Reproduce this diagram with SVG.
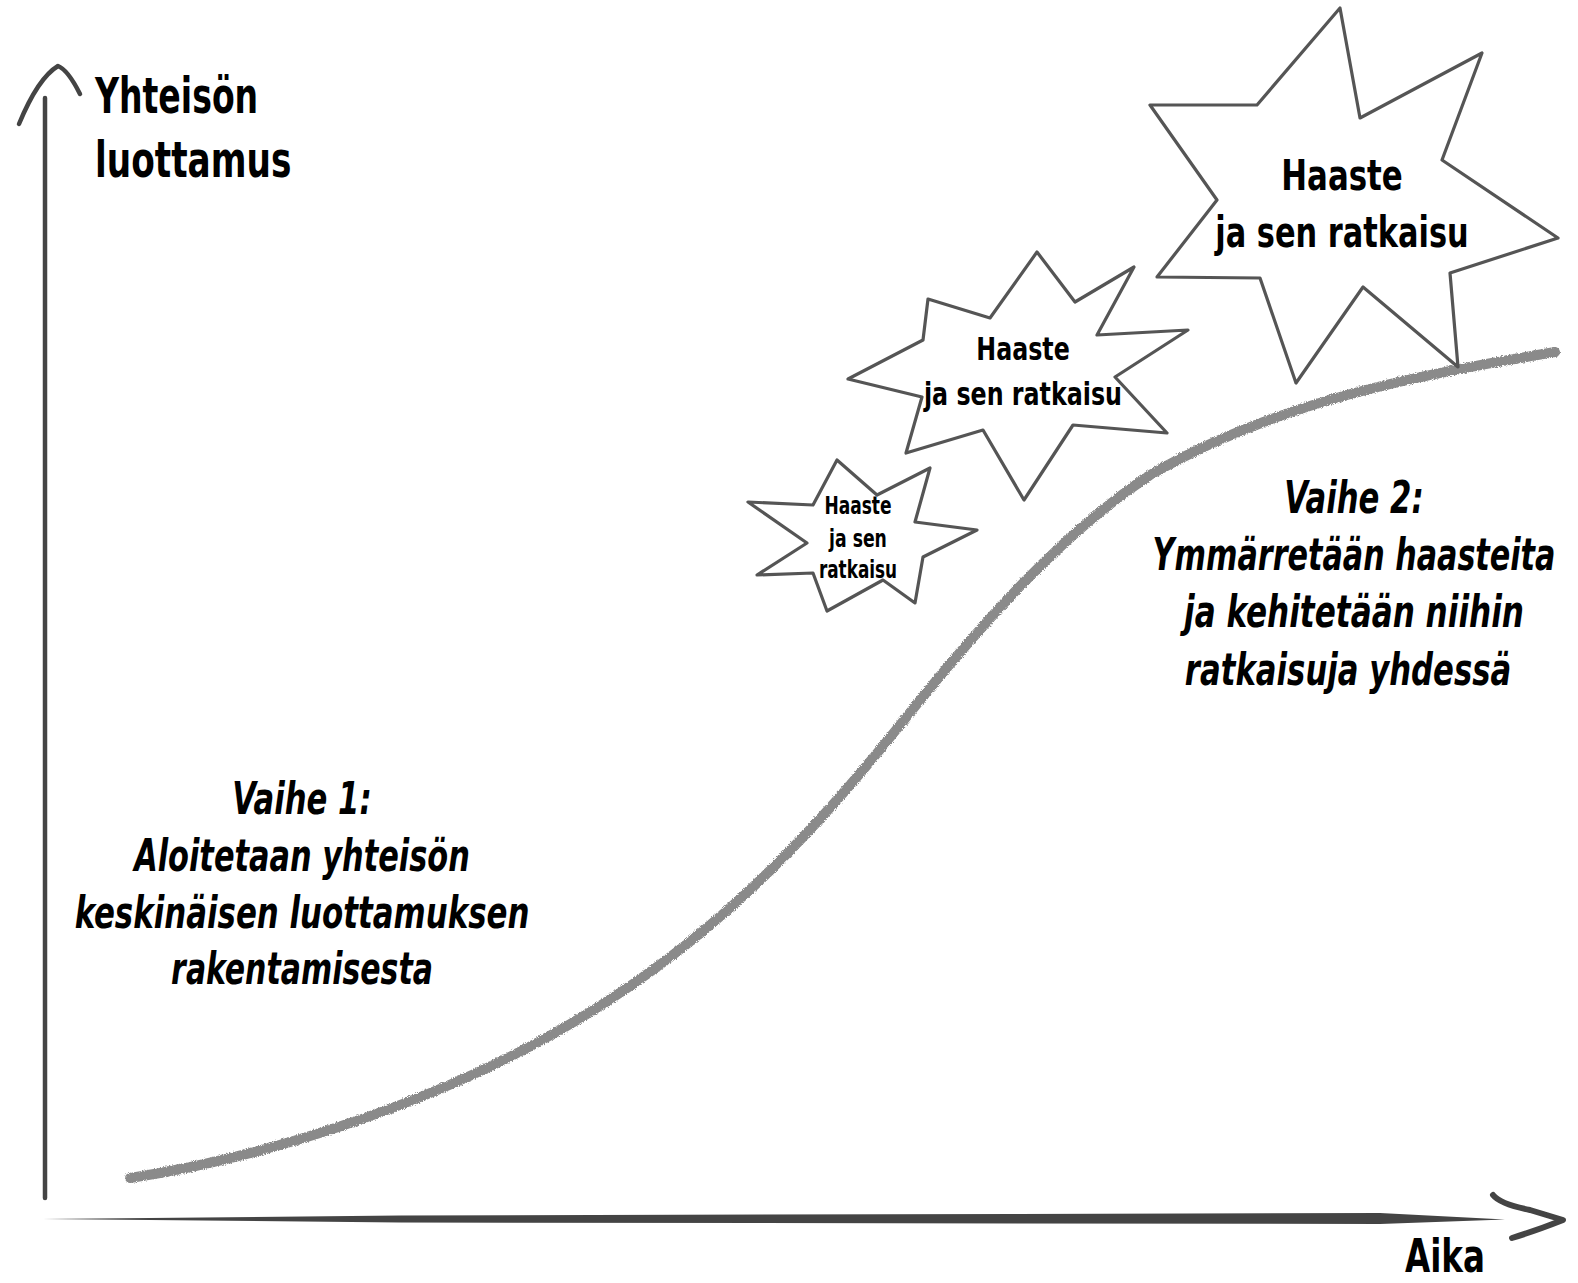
<svg xmlns="http://www.w3.org/2000/svg" width="1578" height="1283" viewBox="0 0 1578 1283">
<style>
  .lbl { font-family: "DejaVu Sans Condensed", "Liberation Sans Narrow", "Liberation Sans", sans-serif; font-stretch: condensed; font-weight: bold; fill: #000; }
  .it { font-style: italic; }
  .star { fill: none; stroke: #555; stroke-width: 3.2; stroke-linejoin: round; stroke-linecap: round; }
  .axis { fill: none; stroke: #444; stroke-linecap: round; stroke-linejoin: round; }
</style>
<defs>
  <filter id="rough" x="-5%" y="-5%" width="110%" height="110%">
    <feTurbulence type="fractalNoise" baseFrequency="0.9" numOctaves="2" result="n"/>
    <feDisplacementMap in="SourceGraphic" in2="n" scale="4" xChannelSelector="R" yChannelSelector="G"/>
  </filter>
</defs>
<rect width="1578" height="1283" fill="#fff"/>

<g id="axes">
  <path class="axis" stroke-width="4.5" d="M45,1198 L45,98"/>
  <path class="axis" stroke-width="4.5" d="M19,124 Q38,78 58,66 Q68,70 80,94"/>
  <path d="M43,1219 L400,1215.5 L1380,1213 L1505,1219.5 L1380,1224 L400,1222.5 Z" fill="#444"/>
  <path class="axis" stroke-width="6" d="M1493,1195 Q1500,1204 1530,1210 L1563,1220 Q1535,1231 1512,1238"/>
</g>

<g id="curve">
  <path d="M130,1178 C250,1160 420,1110 560,1030 C700,950 800,850 900,725 C980,625 1060,535 1150,475 C1280,400 1420,375 1555,352" fill="none" stroke="#8a8a8a" stroke-width="10" stroke-linecap="round" filter="url(#rough)"/>
</g>

<g id="label-y" transform="translate(95,0) scale(0.85,1)">
  <text class="lbl" x="0" y="113" font-size="50" textLength="192" lengthAdjust="spacingAndGlyphs">Yhteisön</text>
  <text class="lbl" x="0" y="177" font-size="50" textLength="231" lengthAdjust="spacingAndGlyphs">luottamus</text>
</g>

<g id="label-x" transform="translate(1405,0) scale(0.85,1)">
  <text class="lbl" x="0" y="1272" font-size="46" textLength="94" lengthAdjust="spacingAndGlyphs">Aika</text>
</g>

<g id="star-small">
  <path class="star" stroke-width="2.8" d="M837,460 L877,495 L930,468 L915,522 L977,530 L923,557 L915,603 L883,580 L827,611 L813,573 L757,575 L807,543 L748,502 L813,505 Z"/>
  <g transform="translate(858,0) scale(0.85,1)">
    <text class="lbl" text-anchor="middle" x="0" y="514" font-size="24" textLength="79" lengthAdjust="spacingAndGlyphs">Haaste</text>
    <text class="lbl" text-anchor="middle" x="0" y="547" font-size="24" textLength="68" lengthAdjust="spacingAndGlyphs">ja sen</text>
    <text class="lbl" text-anchor="middle" x="0" y="578" font-size="24" textLength="92" lengthAdjust="spacingAndGlyphs">ratkaisu</text>
  </g>
</g>

<g id="star-medium">
  <path class="star" d="M1037,252 L1075,302 L1134,267 L1097,335 L1188,330 L1115,377 L1167,433 L1073,425 L1024,500 L983,430 L906,453 L922,397 L848,379 L923,340 L928,299 L990,318 Z"/>
  <g transform="translate(1023,0) scale(0.85,1)">
    <text class="lbl" text-anchor="middle" x="0" y="360" font-size="32" textLength="110" lengthAdjust="spacingAndGlyphs">Haaste</text>
    <text class="lbl" text-anchor="middle" x="0" y="405" font-size="32" textLength="233" lengthAdjust="spacingAndGlyphs">ja sen ratkaisu</text>
  </g>
</g>

<g id="star-large">
  <path class="star" stroke-width="4" d="M1340,8 L1360,118 L1482,53 L1442,160 L1558,238 L1450,273 L1458,367 L1363,287 L1296,383 L1260,278 L1157,277 L1217,200 L1150,105 L1257,105 Z"/>
  <g transform="translate(1342,0) scale(0.85,1)">
    <text class="lbl" text-anchor="middle" x="0" y="190" font-size="42" textLength="143" lengthAdjust="spacingAndGlyphs">Haaste</text>
    <text class="lbl" text-anchor="middle" x="0" y="247" font-size="42" textLength="298" lengthAdjust="spacingAndGlyphs">ja sen ratkaisu</text>
  </g>
</g>

<g id="phase-1" transform="translate(302,0) scale(0.85,1)">
  <text class="lbl it" text-anchor="middle" x="0" y="814" font-size="44" textLength="164" lengthAdjust="spacingAndGlyphs">Vaihe 1:</text>
  <text class="lbl it" text-anchor="middle" x="0" y="871" font-size="44" textLength="395" lengthAdjust="spacingAndGlyphs">Aloitetaan yhteisön</text>
  <text class="lbl it" text-anchor="middle" x="0" y="928" font-size="44" textLength="535" lengthAdjust="spacingAndGlyphs">keskinäisen luottamuksen</text>
  <text class="lbl it" text-anchor="middle" x="0" y="984" font-size="44" textLength="308" lengthAdjust="spacingAndGlyphs">rakentamisesta</text>
</g>

<g id="phase-2">
  <g transform="translate(1354,0) scale(0.85,1)">
    <text class="lbl it" text-anchor="middle" x="0" y="513" font-size="44" textLength="164" lengthAdjust="spacingAndGlyphs">Vaihe 2:</text>
    <text class="lbl it" text-anchor="middle" x="0" y="627" font-size="44" textLength="400" lengthAdjust="spacingAndGlyphs">ja kehitetään niihin</text>
    <text class="lbl it" text-anchor="middle" x="-7" y="685" font-size="44" textLength="384" lengthAdjust="spacingAndGlyphs">ratkaisuja yhdessä</text>
  </g>
  <g transform="translate(1354,0) scale(0.76,1)">
    <text class="lbl it" text-anchor="middle" x="0" y="570" font-size="44" textLength="530" lengthAdjust="spacingAndGlyphs">Ymmärretään haasteita</text>
  </g>
</g>
</svg>
